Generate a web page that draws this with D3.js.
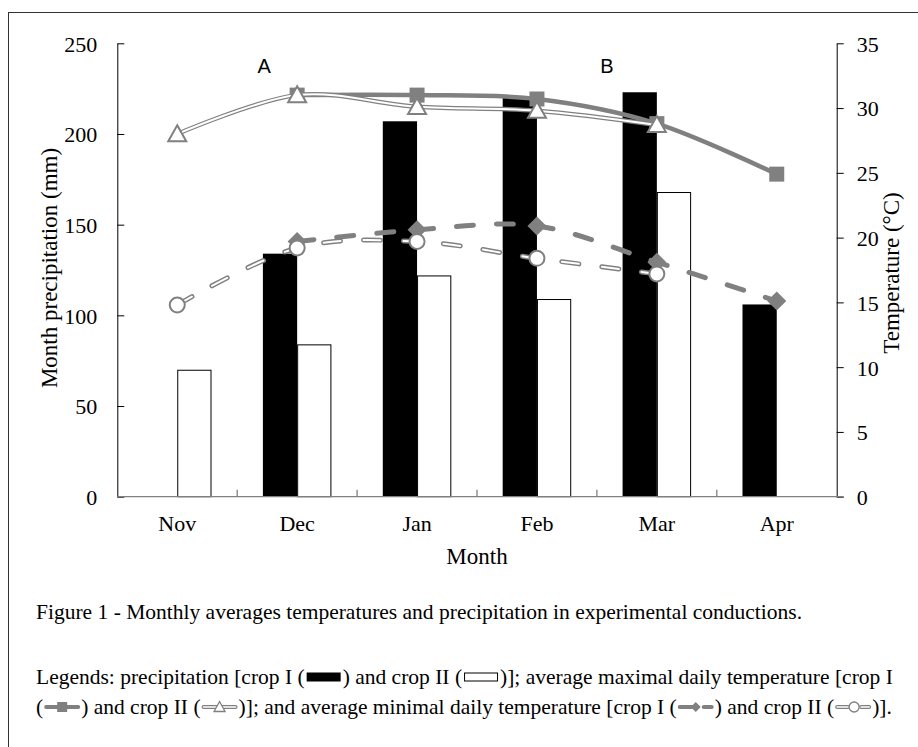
<!DOCTYPE html>
<html>
<head>
<meta charset="utf-8">
<script src="https://cdn.jsdelivr.net/npm/d3@7"></script>
<style>
  html, body { margin: 0; padding: 0; background: #fff; }
  svg { display: block; }
</style>
</head>
<body>
<svg id="chart" width="918" height="747"></svg>
<script>
// ---------------- data ----------------
const months = ["Nov", "Dec", "Jan", "Feb", "Mar", "Apr"];
const precipCropI  = [null, 134, 207, 220, 223, 106];
const precipCropII = [70, 84, 122, 109, 168, null];
const maxTempCropI  = [null, 31.0, 31.0, 30.7, 28.8, 24.9];
const maxTempCropII = [28.0, 31.0, 30.1, 29.8, 28.7, null];
const minTempCropI  = [null, 19.7, 20.6, 20.9, 18.1, 15.1];
const minTempCropII = [14.8, 19.2, 19.7, 18.4, 17.2, null];
const precipTicks = [0, 50, 100, 150, 200, 250];
const tempTicks = [0, 5, 10, 15, 20, 25, 30, 35];
const panelLabels = [{ text: "A", month: "Dec", dx: -33 }, { text: "B", month: "Mar", dx: -50 }];
const captionTitle = "Figure 1 - Monthly averages temperatures and precipitation in experimental conductions.";
const legendLine1 = ["Legends: precipitation [crop I (", "barI", ") and crop II (", "barII", ")]; average maximal daily temperature [crop I"];
const legendLine2 = ["(", "maxI", ") and crop II (", "maxII", ")]; and average minimal daily temperature [crop I (", "minI", ") and crop II (", "minII", ")]."];

// ---------------- layout ----------------
const GREY = "#808080";
const serif = "'Liberation Serif', 'Times New Roman', serif";
const sans = "'Liberation Sans', Arial, sans-serif";
const plot = { left: 117.3, right: 836.7, top: 43.3, bottom: 496.7 };

const svg = d3.select("#chart");

// outer frame (only top & left visible in picture)
svg.append("rect").attr("x", 8.5).attr("y", 12.5).attr("width", 940).attr("height", 760)
  .attr("fill", "none").attr("stroke", "#333").attr("stroke-width", 1);

const x = d3.scaleBand().domain(months).range([plot.left, plot.right]).paddingInner(0).paddingOuter(0);
const xSub = d3.scaleBand().domain(["I", "II"]).range([0, x.bandwidth()]).paddingInner(0).paddingOuter(0.75);
const yL = d3.scaleLinear().domain([0, 250]).range([plot.bottom, plot.top]);
const yR = d3.scaleLinear().domain([0, 35]).range([plot.bottom, plot.top]);

// ---------------- bars ----------------
const barsG = svg.append("g");
months.forEach((m, i) => {
  if (precipCropI[i] != null) {
    barsG.append("rect")
      .attr("x", x(m) + xSub("I")).attr("width", xSub.bandwidth())
      .attr("y", yL(precipCropI[i])).attr("height", yL(0) - yL(precipCropI[i]))
      .attr("fill", "#000");
  }
  if (precipCropII[i] != null) {
    barsG.append("rect")
      .attr("x", x(m) + xSub("II") + 0.5).attr("width", xSub.bandwidth() - 1)
      .attr("y", yL(precipCropII[i]) + 0.5).attr("height", yL(0) - yL(precipCropII[i]) - 0.5)
      .attr("fill", "#fff").attr("stroke", "#000").attr("stroke-width", 1);
  }
});

// ---------------- axes ----------------
const fontTick = 22;
const leftAxis = d3.axisLeft(yL).tickValues(precipTicks).tickSizeInner(-7).tickSizeOuter(0).tickPadding(20);
const gL = svg.append("g").attr("transform", `translate(${plot.left},0)`).call(leftAxis);
const rightAxis = d3.axisRight(yR).tickValues(tempTicks).tickSizeInner(7).tickSizeOuter(0).tickPadding(13);
const gR = svg.append("g").attr("transform", `translate(${plot.right},0)`).call(rightAxis);
[gL, gR].forEach(g => {
  g.attr("font-family", serif).attr("font-size", fontTick);
  g.selectAll("path.domain").attr("stroke", "#000");
  g.selectAll(".tick line").attr("stroke", "#000");
  g.selectAll(".tick text").attr("font-family", serif).attr("font-size", fontTick).attr("fill", "#000").attr("dy", "0.36em");
});

const bottomAxis = d3.axisBottom(x).tickSize(0).tickPadding(19);
const gB = svg.append("g").attr("transform", `translate(0,${plot.bottom})`).call(bottomAxis);
gB.attr("font-family", serif).attr("font-size", fontTick);
gB.select("path.domain").attr("stroke", GREY).attr("stroke-width", 1.3).attr("d", `M${plot.left},0H${plot.right + 7}`);
gB.selectAll(".tick text").attr("font-family", serif).attr("font-size", fontTick).attr("fill", "#000");
// category boundary tick marks (pointing up)
gB.selectAll("line.bound").data(months.slice(1)).enter().append("line")
  .attr("class", "bound")
  .attr("x1", d => x(d)).attr("x2", d => x(d))
  .attr("y1", 0).attr("y2", -7)
  .attr("stroke", GREY).attr("stroke-width", 1.3);

// axis titles
svg.append("text").attr("transform", `translate(57,268) rotate(-90)`)
  .attr("text-anchor", "middle").attr("font-family", serif).attr("font-size", 23).attr("fill", "#000")
  .text("Month precipitation (mm)");
svg.append("text").attr("transform", `translate(899,273) rotate(-90)`)
  .attr("text-anchor", "middle").attr("font-family", serif).attr("font-size", 23).attr("fill", "#000")
  .text("Temperature (°C)");
svg.append("text").attr("x", (plot.left + plot.right) / 2).attr("y", 564)
  .attr("text-anchor", "middle").attr("font-family", serif).attr("font-size", 23).attr("fill", "#000")
  .text("Month");

// panel labels A, B
panelLabels.forEach(p => {
  svg.append("text").attr("x", x(p.month) + x.bandwidth() / 2 + p.dx).attr("y", 72.7)
    .attr("text-anchor", "middle").attr("font-family", sans).attr("font-size", 20).attr("fill", "#000")
    .text(p.text);
});

// ---------------- lines ----------------
const cx = m => x(m) + x.bandwidth() / 2;
const curve = d3.curveCardinal.tension(0);
function pts(arr) {
  return months.map((m, i) => arr[i] == null ? null : [cx(m), yR(arr[i])]).filter(d => d);
}
const lineGen = d3.line().curve(curve);

const linesG = svg.append("g");
function square(g, p, s) {
  g.append("rect").attr("x", p[0] - s / 2).attr("y", p[1] - s / 2).attr("width", s).attr("height", s)
    .attr("fill", GREY);
}
function triangle(g, p, w, h, sw) {
  g.append("path").attr("d", `M${p[0]},${p[1] - h * 0.55}L${p[0] + w / 2},${p[1] + h * 0.45}L${p[0] - w / 2},${p[1] + h * 0.45}Z`)
    .attr("fill", "#fff").attr("stroke", GREY).attr("stroke-width", sw || 2).attr("stroke-linejoin", "miter");
}
function diamond(g, p, r) {
  g.append("path").attr("d", `M${p[0]},${p[1] - r}L${p[0] + r},${p[1]}L${p[0]},${p[1] + r}L${p[0] - r},${p[1]}Z`)
    .attr("fill", GREY);
}
function circle(g, p, r, sw) {
  g.append("circle").attr("cx", p[0]).attr("cy", p[1]).attr("r", r)
    .attr("fill", "#fff").attr("stroke", GREY).attr("stroke-width", sw || 2);
}

// max crop I : solid thick grey + squares
const pMaxI = pts(maxTempCropI);
linesG.append("path").attr("d", lineGen(pMaxI)).attr("fill", "none").attr("stroke", GREY).attr("stroke-width", 4.5);
pMaxI.forEach(p => square(linesG, p, 15));

// max crop II : double line + open triangles
const pMaxII = pts(maxTempCropII);
linesG.append("path").attr("d", lineGen(pMaxII)).attr("fill", "none").attr("stroke", GREY).attr("stroke-width", 4.5);
linesG.append("path").attr("d", lineGen(pMaxII)).attr("fill", "none").attr("stroke", "#fff").attr("stroke-width", 2);
pMaxII.forEach(p => triangle(linesG, p, 18, 16, 2));

// min crop I : thick dashed + diamonds
const pMinI = pts(minTempCropI);
linesG.append("path").attr("d", lineGen(pMinI)).attr("fill", "none").attr("stroke", GREY)
  .attr("stroke-width", 5).attr("stroke-linecap", "round").attr("stroke-dasharray", "17,23");
pMinI.forEach(p => diamond(linesG, p, 9.5));

// min crop II : double dashed + open circles
const pMinII = pts(minTempCropII);
linesG.append("path").attr("d", lineGen(pMinII)).attr("fill", "none").attr("stroke", GREY)
  .attr("stroke-width", 5).attr("stroke-linecap", "round").attr("stroke-dasharray", "17,23");
linesG.append("path").attr("d", lineGen(pMinII)).attr("fill", "none").attr("stroke", "#fff")
  .attr("stroke-width", 2).attr("stroke-linecap", "round").attr("stroke-dasharray", "17,23");
pMinII.forEach(p => circle(linesG, p, 7.5, 2));

// ---------------- caption ----------------
const capFont = 21.5;
svg.append("text").attr("x", 36).attr("y", 619).attr("font-family", serif).attr("font-size", capFont)
  .attr("fill", "#000").text(captionTitle);

function drawSymbol(g, key, x0, yb) {
  const yc = yb - 6.5;
  const w = 38;
  if (key === "barI") {
    g.append("rect").attr("x", x0 + 2).attr("y", yc - 4.5).attr("width", w - 4).attr("height", 9).attr("fill", "#000");
  } else if (key === "barII") {
    g.append("rect").attr("x", x0 + 2.5).attr("y", yc - 4).attr("width", w - 5).attr("height", 8)
      .attr("fill", "#fff").attr("stroke", "#000").attr("stroke-width", 1);
  } else if (key === "maxI") {
    g.append("line").attr("x1", x0 + 3).attr("x2", x0 + w - 3).attr("y1", yc).attr("y2", yc)
      .attr("stroke", GREY).attr("stroke-width", 4).attr("stroke-linecap", "round");
    g.append("rect").attr("x", x0 + w / 2 - 5).attr("y", yc - 5).attr("width", 10).attr("height", 10).attr("fill", GREY);
  } else if (key === "maxII") {
    g.append("line").attr("x1", x0 + 3).attr("x2", x0 + w - 3).attr("y1", yc).attr("y2", yc)
      .attr("stroke", GREY).attr("stroke-width", 4).attr("stroke-linecap", "round");
    g.append("line").attr("x1", x0 + 3).attr("x2", x0 + w - 3).attr("y1", yc).attr("y2", yc)
      .attr("stroke", "#fff").attr("stroke-width", 1.6).attr("stroke-linecap", "round");
    triangle(g, [x0 + w / 2, yc], 11, 10, 1.3);
  } else if (key === "minI") {
    g.append("line").attr("x1", x0 + 3).attr("x2", x0 + 16).attr("y1", yc).attr("y2", yc)
      .attr("stroke", GREY).attr("stroke-width", 4).attr("stroke-linecap", "round");
    g.append("line").attr("x1", x0 + 27).attr("x2", x0 + w - 3).attr("y1", yc).attr("y2", yc)
      .attr("stroke", GREY).attr("stroke-width", 4).attr("stroke-linecap", "round");
    diamond(g, [x0 + 19, yc], 5);
  } else if (key === "minII") {
    [[3, 14], [27, w - 3]].forEach(([a, b]) => {
      g.append("line").attr("x1", x0 + a).attr("x2", x0 + b).attr("y1", yc).attr("y2", yc)
        .attr("stroke", GREY).attr("stroke-width", 4).attr("stroke-linecap", "round");
      g.append("line").attr("x1", x0 + a).attr("x2", x0 + b).attr("y1", yc).attr("y2", yc)
        .attr("stroke", "#fff").attr("stroke-width", 1.6).attr("stroke-linecap", "round");
    });
    circle(g, [x0 + 20, yc], 5, 1.3);
  }
  return w;
}

function legendRow(parts, yb) {
  const g = svg.append("g");
  let xPos = 36;
  parts.forEach(part => {
    if (["barI", "barII", "maxI", "maxII", "minI", "minII"].includes(part)) {
      xPos += drawSymbol(g, part, xPos, yb);
    } else {
      const t = g.append("text").attr("x", xPos).attr("y", yb).attr("font-family", serif)
        .attr("font-size", capFont).attr("fill", "#000")
        .style("white-space", "pre").text(part);
      xPos += t.node().getComputedTextLength();
    }
  });
}
legendRow(legendLine1, 683.5);
legendRow(legendLine2, 713.5);
</script>
</body>
</html>
